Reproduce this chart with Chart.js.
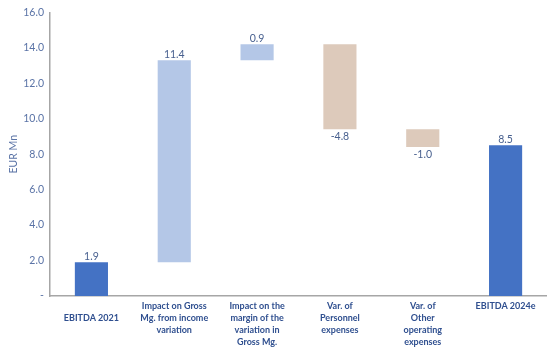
<!DOCTYPE html>
<html>
<head>
<meta charset="utf-8">
<script src="https://cdn.jsdelivr.net/npm/chart.js@4/dist/chart.umd.min.js"></script>
<style>
  html, body { margin: 0; padding: 0; background: #fff; }
  #wrap { width: 547px; height: 349px; position: relative; }
</style>
</head>
<body>
<div id="wrap"><canvas id="chart"></canvas></div>
<script>
// ===== Data =====
const categories = [
  ['', 'EBITDA 2021'],
  ['Impact on Gross', 'Mg. from income', 'variation'],
  ['Impact on the', 'margin of the', 'variation in', 'Gross Mg.'],
  ['Var. of', 'Personnel', 'expenses'],
  ['Var. of', 'Other', 'operating', 'expenses'],
  'EBITDA 2024e'
];
const values = [1.9, 11.4, 0.9, -4.8, -1.0, 8.5];
const isTotal = [true, false, false, false, false, true];
const yTicks = [0, 2, 4, 6, 8, 10, 12, 14, 16];

// ===== Waterfall ranges =====
let run = 0;
const ranges = values.map((v, i) => {
  if (isTotal[i]) { run = v; return [0, v]; }
  const r = [run, run + v]; run += v; return r;
});
const colors = values.map((v, i) => isTotal[i] ? '#4472C4' : (v >= 0 ? '#B4C7E7' : '#DDCABB'));

const FONT = 'Lato, "Liberation Sans", Arial, sans-serif';

// value labels above / below bars
const valueLabels = {
  id: 'valueLabels',
  afterDatasetsDraw(chart) {
    const { ctx } = chart;
    const meta = chart.getDatasetMeta(0);
    ctx.save();
    ctx.font = '10.5px ' + FONT;
    ctx.fillStyle = '#48608F';
    ctx.textAlign = 'center';
    meta.data.forEach((bar, i) => {
      const v = values[i];
      const top = Math.min(bar.y, bar.base);
      const bot = Math.max(bar.y, bar.base);
      if (v >= 0) { ctx.textBaseline = 'bottom'; ctx.fillText(v.toFixed(1), bar.x, top); }
      else { ctx.textBaseline = 'top'; ctx.fillText(v.toFixed(1), bar.x, bot + 2); }
    });
    ctx.restore();
  }
};

new Chart(document.getElementById('chart').getContext('2d'), {
  type: 'bar',
  data: {
    labels: categories,
    datasets: [{ data: ranges, backgroundColor: colors, borderWidth: 0,
      barPercentage: 0.4, categoryPercentage: 1 }]
  },
  options: {
    responsive: true,
    maintainAspectRatio: false,
    animation: false,
    layout: { padding: { top: 12, right: 0, left: 7, bottom: 0 } },
    plugins: { legend: { display: false }, tooltip: { enabled: false } },
    scales: {
      x: {
        grid: { display: false, drawTicks: false },
        border: { color: '#A6A6A6', width: 1.5 },
        ticks: {
          font: { family: FONT, size: 9, weight: 'bold', lineHeight: 1.33 },
          color: '#2F4F8F', maxRotation: 0, autoSkip: false, padding: 4
        },
        afterFit: s => { s.height = 53; }
      },
      y: {
        min: 0, max: 16,
        afterBuildTicks: s => { s.ticks = yTicks.map(v => ({ value: v })); },
        grid: { display: false, drawTicks: false },
        border: { color: '#A6A6A6', width: 1.5 },
        ticks: {
          font: { family: FONT, size: 10.5 },
          color: '#5A73A6', padding: 6,
          callback: v => v === 0 ? '-' : v.toFixed(1)
        },
        title: {
          display: true, text: 'EUR Mn', color: '#5A73A6',
          font: { family: FONT, size: 10.5 }, padding: 0
        },
        afterFit: s => { s.width = 43; }
      }
    }
  },
  plugins: [valueLabels]
});
</script>
</body>
</html>
